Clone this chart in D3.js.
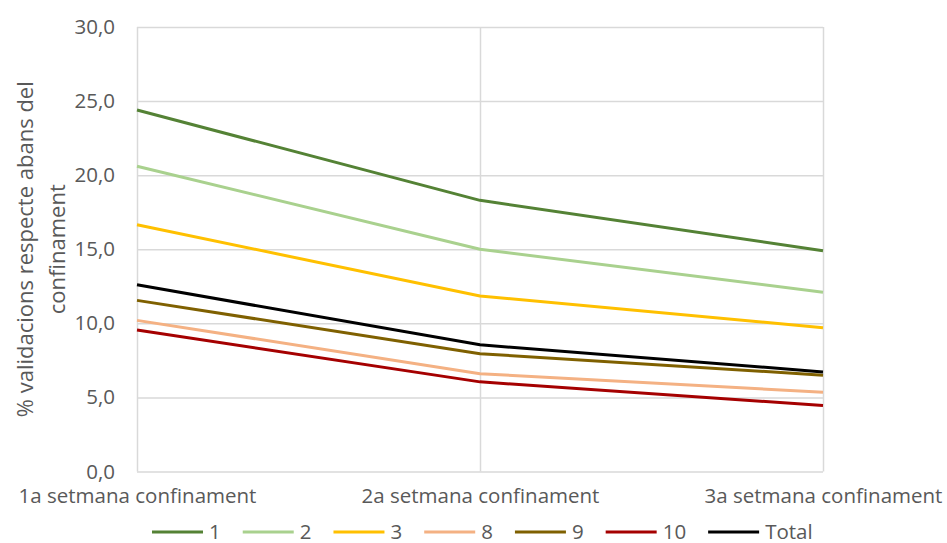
<!DOCTYPE html>
<html><head><meta charset="utf-8">
<script src="https://cdn.jsdelivr.net/npm/d3@7"></script>
<style>body{margin:0;background:#fff}svg{display:block}text{font-family:"Open Sans",sans-serif;fill:#595959}</style>
</head><body><svg id="c" width="947" height="543"></svg>
<script>
const categories = ["1a setmana confinament", "2a setmana confinament", "3a setmana confinament"];
const seriesNames = ["1", "2", "3", "8", "9", "10", "Total"];
const s1 = [24.4, 18.3, 14.9];
const s2 = [20.6, 15.0, 12.1];
const s3 = [16.65, 11.85, 9.7];
const s8 = [10.2, 6.6, 5.35];
const s9 = [11.55, 7.95, 6.5];
const s10 = [9.55, 6.05, 4.45];
const sTotal = [12.6, 8.55, 6.72];
const colors = ["#548235", "#A9D18E", "#FFC000", "#F4B183", "#7F6000", "#A50000", "#000000"];
const yTicks = [0, 5, 10, 15, 20, 25, 30];
const yTitle = ["% validacions respecte abans del", "confinament"];

const values = [s1, s2, s3, s8, s9, s10, sTotal];
const series = seriesNames.map((n, i) => ({name: n, values: values[i], color: colors[i]}));

const FF = '"Open Sans",sans-serif';
const svg = d3.select("#c");
const L = 137, R = 823, T = 27, B = 471.5;
const x = d3.scalePoint().domain(categories).range([L, R]).padding(0);
const y = d3.scaleLinear().domain([0, 30]).range([B, T]);

// horizontal gridlines + tick labels
const yAxis = d3.axisLeft(y).tickValues(yTicks).tickSize(-(R - L)).tickFormat(d => d3.format(".1f")(d).replace(".", ","));
const gy = svg.append("g").attr("transform", `translate(${L},0)`).call(yAxis);
gy.select(".domain").remove();
gy.selectAll(".tick line").attr("stroke", "#d9d9d9").attr("stroke-width", 1.5);
gy.selectAll(".tick text").attr("x", -22).attr("font-size", 20.5).style("font-family", FF).attr("fill", "#595959");

// vertical gridlines + category labels
const xAxis = d3.axisBottom(x).tickSize(-(B - T));
const gx = svg.append("g").attr("transform", `translate(0,${B})`).call(xAxis);
gx.select(".domain").remove();
gx.selectAll(".tick line").attr("stroke", "#d9d9d9").attr("stroke-width", 1.5);
gx.selectAll(".tick text").attr("y", 17).attr("font-size", 20.5).style("font-family", FF).attr("fill", "#595959");

// lines
const line = d3.line().x((d, i) => x(categories[i])).y(d => y(d));
svg.append("g").selectAll("path").data(series).join("path")
  .attr("d", d => line(d.values)).attr("fill", "none")
  .attr("stroke", d => d.color).attr("stroke-width", 3).attr("stroke-linejoin", "round");

// y title
const yt = svg.append("text").attr("transform", `translate(0,${(T + B) / 2}) rotate(-90)`).attr("text-anchor", "middle").attr("font-size", 22);
yTitle.forEach((t, i) => yt.append("tspan").attr("x", 0).attr("y", 33 + i * 32).text(t));

// legend
const lg = svg.append("g");
let lx = 152;
const ly = 532;
series.forEach(s => {
  lg.append("line").attr("x1", lx).attr("x2", lx + 51).attr("y1", ly).attr("y2", ly).attr("stroke", s.color).attr("stroke-width", 3);
  const t = lg.append("text").attr("x", lx + 57).attr("y", ly).attr("dy", "0.35em").attr("font-size", 20.5).text(s.name);
  lx = lx + 57 + t.node().getComputedTextLength() + 22;
});
</script></body></html>
